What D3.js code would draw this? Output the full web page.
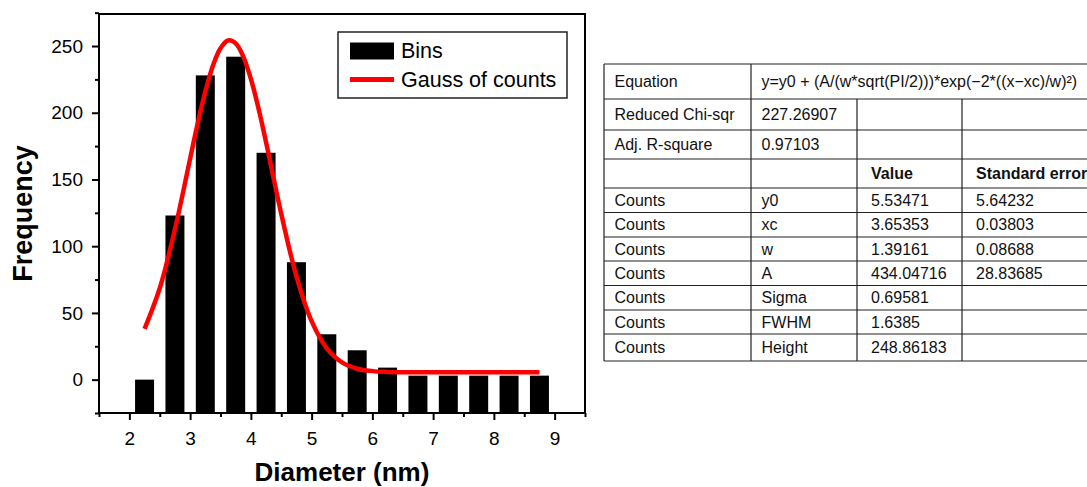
<!DOCTYPE html>
<html>
<head>
<meta charset="utf-8">
<script src="https://cdn.jsdelivr.net/npm/d3@7/dist/d3.min.js"></script>
<style>
  html, body { margin: 0; padding: 0; background: #fff; }
  svg { display: block; font-family: "Liberation Sans", Arial, sans-serif; }
</style>
</head>
<body>
<svg id="chart" width="1087" height="487"></svg>
<script>
// ---- Data ----
const binCenters = [2.25, 2.75, 3.25, 3.75, 4.25, 4.75, 5.25, 5.75, 6.25, 6.75, 7.25, 7.75, 8.25, 8.75];
const binCounts  = [0, 123, 228, 242, 170, 88, 34, 22, 9, 3, 3, 3, 3, 3];

const fitX = [2.25, 2.5, 2.75, 3.0, 3.125, 3.25, 3.375, 3.5, 3.625, 3.75, 3.875, 4.0, 4.125, 4.25, 4.5, 4.75, 5.0, 5.25, 5.5, 5.75, 6.0, 6.25, 6.5, 7.0, 7.5, 8.0, 8.5, 8.75];
const fitY = [38.08, 68.50, 112.64, 165.64, 192.04, 215.88, 235.24, 248.41, 254.19, 252.01, 242.11, 225.38, 203.36, 177.88, 124.27, 77.44, 43.81, 23.43, 12.89, 8.19, 6.38, 5.77, 5.59, 5.54, 5.535, 5.535, 5.535, 5.535];

const xTickValues = [2, 3, 4, 5, 6, 7, 8, 9];
const xMinorValues = [1.5, 2.5, 3.5, 4.5, 5.5, 6.5, 7.5, 8.5, 9.5];
const yTickValues = [0, 50, 100, 150, 200, 250];
const yMinorValues = [-25, 25, 75, 125, 175, 225, 275];

const legendLabels = ["Bins", "Gauss of counts"];
const xTitle = "Diameter (nm)";
const yTitle = "Frequency";

const tableCol1 = ["Equation", "Reduced Chi-sqr", "Adj. R-square", "", "Counts", "Counts", "Counts", "Counts", "Counts", "Counts", "Counts"];
const tableCol2 = ["y=y0 + (A/(w*sqrt(PI/2)))*exp(\u22122*((x\u2212xc)/w)\u00B2)", "227.26907", "0.97103", "", "y0", "xc", "w", "A", "Sigma", "FWHM", "Height"];
const tableCol3 = [null, "", "", "Value", "5.53471", "3.65353", "1.39161", "434.04716", "0.69581", "1.6385", "248.86183"];
const tableCol4 = [null, "", "", "Standard error", "5.64232", "0.03803", "0.08688", "28.83685", "", "", ""];

// ---- Layout ----
const svg = d3.select("#chart");
const L = 99, R = 585, T = 14, B = 413;

const x = d3.scaleLinear().domain([1.5, 9.5]).range([L, R]);
const y = d3.scaleLinear().domain([-25, 274]).range([B, T]);

// bars (drawn from bottom of the plot frame)
const barW = x(2.3125) - x(2.0);
svg.append("g").selectAll("rect").data(binCenters).join("rect")
  .attr("x", (d) => x(d) - barW / 2)
  .attr("width", barW)
  .attr("y", (d, i) => y(binCounts[i]))
  .attr("height", (d, i) => B - y(binCounts[i]))
  .attr("fill", "#000");

// fit curve
const line = d3.line().x((d) => x(d)).y((d, i) => y(fitY[i])).curve(d3.curveCatmullRom);
svg.append("path").datum(fitX)
  .attr("d", line)
  .attr("fill", "none")
  .attr("stroke", "#ff0000")
  .attr("stroke-width", 4.5)
  .attr("stroke-linecap", "butt");

// axes
const axisFont = 19;
const gx = svg.append("g").attr("transform", `translate(0,${B})`)
  .call(d3.axisBottom(x).tickValues(xTickValues).tickSize(7).tickPadding(12).tickFormat(d3.format("d")));
const gxm = svg.append("g").attr("transform", `translate(0,${B})`)
  .call(d3.axisBottom(x).tickValues(xMinorValues).tickSize(4).tickFormat(""));
const gy = svg.append("g").attr("transform", `translate(${L},0)`)
  .call(d3.axisLeft(y).tickValues(yTickValues).tickSize(7).tickPadding(9).tickFormat(d3.format("d")));
const gym = svg.append("g").attr("transform", `translate(${L},0)`)
  .call(d3.axisLeft(y).tickValues(yMinorValues).tickSize(4).tickFormat(""));

[gx, gxm, gy, gym].forEach((g) => {
  g.select(".domain").remove();
  g.selectAll(".tick line").attr("stroke", "#000").attr("stroke-width", 2);
  g.selectAll(".tick text").attr("font-size", axisFont).attr("fill", "#000")
    .attr("font-family", "'Liberation Sans', Arial, sans-serif");
});

// frame
svg.append("rect").attr("x", L).attr("y", T).attr("width", R - L).attr("height", B - T)
  .attr("fill", "none").attr("stroke", "#000").attr("stroke-width", 2);

// titles
svg.append("text").attr("x", (L + R) / 2).attr("y", 481).attr("text-anchor", "middle")
  .attr("font-size", 26).attr("font-weight", "bold").text(xTitle);
svg.append("text").attr("transform", `translate(32,${(T + B) / 2}) rotate(-90)`)
  .attr("text-anchor", "middle").attr("font-size", 27).attr("font-weight", "bold").text(yTitle);

// legend
const lg = svg.append("g");
lg.append("rect").attr("x", 338).attr("y", 32).attr("width", 229).attr("height", 66)
  .attr("fill", "#fff").attr("stroke", "#222").attr("stroke-width", 1.5);
lg.append("rect").attr("x", 350).attr("y", 42.5).attr("width", 44).attr("height", 17).attr("fill", "#000");
lg.append("line").attr("x1", 350).attr("x2", 394).attr("y1", 79.5).attr("y2", 79.5)
  .attr("stroke", "#ff0000").attr("stroke-width", 5);
lg.append("text").attr("x", 401).attr("y", 58).attr("font-size", 21.5).text(legendLabels[0]);
lg.append("text").attr("x", 401).attr("y", 87).attr("font-size", 21.5).text(legendLabels[1]);

// table
const colX = [604, 751, 857, 962, 1160];
const rowY = [64, 99, 130, 159, 188, 212.5, 237, 261, 285.5, 310, 334, 361];
const pad = [10.5, 10.5, 14, 14];
const tg = svg.append("g");
const cols = [tableCol1, tableCol2, tableCol3, tableCol4];
// horizontal lines
rowY.forEach((yy) => {
  tg.append("line").attr("x1", colX[0]).attr("x2", colX[4]).attr("y1", yy).attr("y2", yy)
    .attr("stroke", "#222").attr("stroke-width", 1.2);
});
// vertical lines
colX.forEach((xx, ci) => {
  const startY = (ci === 2 || ci === 3) ? rowY[1] : rowY[0];
  tg.append("line").attr("x1", xx).attr("x2", xx).attr("y1", startY).attr("y2", rowY[rowY.length - 1])
    .attr("stroke", "#222").attr("stroke-width", 1.2);
});
// texts
cols.forEach((col, ci) => {
  col.forEach((txt, ri) => {
    if (!txt) return;
    const bold = ri === 3;
    tg.append("text")
      .attr("x", colX[ci] + pad[ci])
      .attr("y", (rowY[ri] + rowY[ri + 1]) / 2 + 5.5)
      .attr("font-size", 16)
      .attr("font-weight", bold ? "bold" : "normal")
      .attr("fill", "#111")
      .text(txt);
  });
});
</script>
</body>
</html>
